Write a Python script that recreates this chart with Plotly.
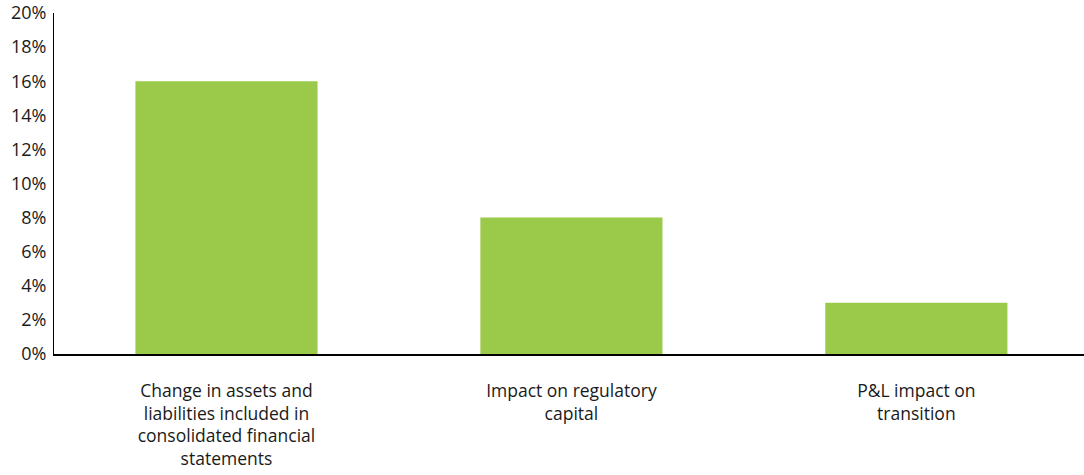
import plotly.graph_objects as go

categories = [
    "Change in assets and<br>liabilities included in<br>consolidated financial<br>statements",
    "Impact on regulatory<br>capital",
    "P&L impact on<br>transition",
]
values = [16.0, 8.0, 3.0]
y_ticks = [0, 2, 4, 6, 8, 10, 12, 14, 16, 18, 20]
y_tick_labels = [f"{v}%" for v in y_ticks]

fig = go.Figure(
    go.Bar(
        x=list(range(len(categories))),
        y=values,
        marker=dict(color="#9BCA4B", line=dict(width=0)),
        width=0.528,
        hoverinfo="skip",
    )
)

fig.update_layout(
    width=1084,
    height=475,
    margin=dict(l=54, r=0, t=13, b=121, autoexpand=False),
    paper_bgcolor="white",
    plot_bgcolor="white",
    showlegend=False,
    font=dict(family="Open Sans, DejaVu Sans, sans-serif", color="#1a1a1a"),
)

fig.update_xaxes(
    range=[-0.5, 2.486],
    tickmode="array",
    tickvals=list(range(len(categories))),
    ticktext=categories,
    tickfont=dict(size=17.5),
    showline=True,
    linecolor="black",
    linewidth=1.5,
    showgrid=False,
    zeroline=False,
    ticks="",
    ticklabelstandoff=20,
    automargin=False,
)

fig.update_yaxes(
    range=[0, 20],
    tickmode="array",
    tickvals=y_ticks,
    ticktext=y_tick_labels,
    tickfont=dict(size=18),
    showline=True,
    linecolor="black",
    linewidth=1,
    showgrid=False,
    zeroline=False,
    ticks="",
    ticklabelstandoff=3,
    automargin=False,
    ticklabeloverflow="allow",
)

fig.write_html(
    "out.html",
    config={"displayModeBar": False},
    post_script="document.body.style.margin='0';",
)
